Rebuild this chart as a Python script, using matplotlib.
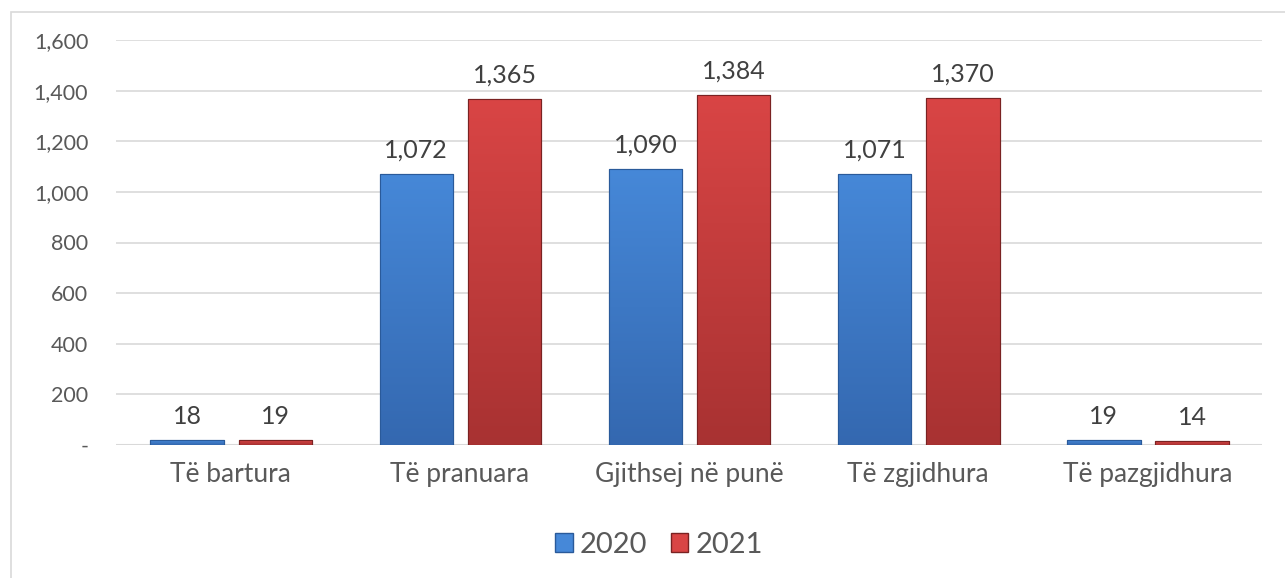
import matplotlib
matplotlib.use("Agg")
import matplotlib.pyplot as plt
import numpy as np
from matplotlib.patches import Rectangle
from matplotlib.colors import LinearSegmentedColormap
from matplotlib.ticker import FuncFormatter

categories = ["Të bartura", "Të pranuara", "Gjithsej në punë", "Të zgjidhura", "Të pazgjidhura"]
series_names = ["2020", "2021"]
values_2020 = [18, 1072, 1090, 1071, 19]
values_2021 = [19, 1365, 1384, 1370, 14]
yticks = [0, 200, 400, 600, 800, 1000, 1200, 1400, 1600]

plt.rcParams['font.family'] = ['Lato', 'DejaVu Sans']

fig = plt.figure(figsize=(12.85, 5.78), dpi=100)
fig.patch.set_facecolor("white")
fig.patches.append(Rectangle((11/1285, -0.1), 1.2, 1 - 12/578 + 0.1, transform=fig.transFigure,
                             fill=False, edgecolor="#d9d9d9", linewidth=1.2, zorder=0))

ax = fig.add_axes([116/1285, 1 - 445/578, (1262 - 116)/1285, (445 - 40)/578])
ax.set_xlim(-0.5, len(categories) - 0.5)
ax.set_ylim(0, 1600)

x = np.arange(len(categories))
width = 0.32
offsets = [-0.19, 0.195]
top_colors = ["#4688d8", "#d94545"]
bot_colors = ["#3468b0", "#a83232"]
edge_colors = ["#2a5a9a", "#7a2222"]

for vals, off, tc, bc, ec in zip([values_2020, values_2021], offsets, top_colors, bot_colors, edge_colors):
    bars = ax.bar(x + off, vals, width, color=tc, edgecolor=ec, linewidth=0.8, zorder=3)
    cmap = LinearSegmentedColormap.from_list("g", [bc, tc])
    for b, v in zip(bars, vals):
        grad = np.linspace(0, 1, 256).reshape(-1, 1)
        im = ax.imshow(grad, cmap=cmap, origin="lower", aspect="auto",
                       extent=[b.get_x(), b.get_x() + b.get_width(), 0, b.get_height()], zorder=3.5)
        im.set_clip_path(b)
        ax.annotate(f"{v:,}", (b.get_x() + b.get_width() / 2, v), xytext=(0, 9),
                    textcoords="offset points", ha="center", va="bottom",
                    fontsize=18, color="#404040", zorder=5)
    for b in bars:
        ax.add_patch(Rectangle((b.get_x(), 0), b.get_width(), b.get_height(), fill=False,
                               edgecolor=ec, linewidth=0.8, zorder=4))

ax.set_xlim(-0.5, len(categories) - 0.5)
ax.set_ylim(0, 1600)
ax.set_yticks(yticks)
ax.yaxis.set_major_formatter(FuncFormatter(lambda v, p: "-" if v == 0 else f"{int(v):,}"))
ax.set_xticks(x)
ax.set_xticklabels(categories)
ax.tick_params(axis="y", length=0, pad=20, labelsize=15.5, labelcolor="#595959")
ax.tick_params(axis="x", length=0, pad=12, labelsize=19, labelcolor="#595959")
ax.grid(axis="y", color="#d9d9d9", linewidth=1.2, zorder=0)
for s in ax.spines.values():
    s.set_visible(False)
ax.axhline(0, color="#d9d9d9", linewidth=1.5, zorder=2)

handles = [Rectangle((0, 0), 1, 1, facecolor=top_colors[i], edgecolor=edge_colors[i]) for i in range(2)]
fig.legend(handles, series_names, loc="center", bbox_to_anchor=(659/1285, 1 - 545/578), ncol=2,
           frameon=False, fontsize=21, labelcolor="#595959", handlelength=0.6, handleheight=0.6,
           handletextpad=0.25, columnspacing=0.8)

fig.savefig("out.png", dpi=100, facecolor="white")
